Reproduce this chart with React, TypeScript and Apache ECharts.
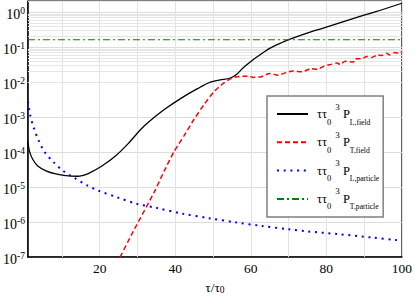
import React, { useEffect, useRef } from "react";
import * as echarts from "echarts";

// tau/tau0 and values
const lFieldX = [1, 1.44, 2.31, 3.61, 5.78, 8.39, 11, 14.06, 15.37, 17.1, 20.6, 24.1, 27.6, 30.6, 32.8, 37.1, 41.5, 45.9, 49.3, 51.9, 54.6, 56.3, 58.0, 60.6, 62.4, 65.0, 67.6, 70.2, 75.5, 79.8, 88.5, 92.9, 100];
const lFieldY = [1.98e-4, 1.04e-4, 6.17e-5, 4.03e-5, 2.93e-5, 2.38e-5, 2.13e-5, 2.05e-5, 2.13e-5, 2.48e-5, 4.03e-5, 7.6e-5, 1.78e-4, 4.16e-4, 7.05e-4, 1.65e-3, 3.46e-3, 6.53e-3, 1.0e-2, 1.16e-2, 1.32e-2, 1.69e-2, 2.59e-2, 4.41e-2, 6.05e-2, 9.27e-2, 0.127, 0.168, 0.268, 0.368, 0.741, 1.02, 1.81];

const tFieldX = [25.4, 28.9, 34.5, 37.1, 39.7, 42.4, 45.0, 47.6, 50.2, 52.8, 55.0, 57.2, 59.8, 60.6, 62.8, 65.0, 67.2, 69.4, 71.1, 73.7, 75.9, 77.6, 79.4, 81.1, 82.8, 83.7, 85.0, 87.2, 87.6, 89.4, 90.7, 92.0, 93.7, 94.6, 95.9, 96.8, 98.1, 99.4, 100];
const tFieldY = [1e-7, 5.47e-7, 7.41e-6, 2.93e-5, 1.04e-4, 3.03e-4, 8.75e-4, 2.27e-3, 5.3e-3, 9.38e-3, 1.32e-2, 1.47e-2, 1.47e-2, 1.37e-2, 1.44e-2, 1.77e-2, 1.59e-2, 1.89e-2, 2.1e-2, 1.98e-2, 2.44e-2, 2.33e-2, 2.89e-2, 3.21e-2, 3.56e-2, 3.21e-2, 3.97e-2, 3.8e-2, 4.69e-2, 4.69e-2, 5.47e-2, 5.13e-2, 6.05e-2, 5.82e-2, 6.75e-2, 6.05e-2, 7.05e-2, 6.75e-2, 7.52e-2];

const lPartX = [1.0, 1.6, 2.57, 3.8, 5.52, 7.79, 10.3, 13.4, 16.7, 19.7, 24.8, 29.7, 35.0, 41.9, 48.9, 55.9, 62.8, 70.2, 74.6, 83.3, 92.0, 98.5, 100];
const lPartY = [2.81e-3, 1.13e-3, 4.93e-4, 2.2e-4, 9.8e-5, 5.19e-5, 2.93e-5, 1.81e-5, 1.13e-5, 7.91e-6, 5.06e-6, 3.37e-6, 2.56e-6, 1.75e-6, 1.3e-6, 9.86e-7, 7.8e-7, 6.21e-7, 5.47e-7, 4.52e-7, 3.64e-7, 3.08e-7, 3.0e-7];

const tPartX = [1, 100];
const tPartY = [0.164, 0.164];

const seriesNames = ["L,field", "T,field", "L,particle", "T,particle"];
const xLabelTicks = [20, 40, 60, 80, 100];
const xMinorGrid = [10, 30, 50, 70, 90];
const yMin = 1e-7;
const yMax = 2.1;

const SERIF = "Liberation Serif";

function zip(xs: number[], ys: number[]) {
  return xs.map((x, i) => [x, ys[i]]);
}

export default function App() {
  const ref = useRef<HTMLDivElement>(null);
  useEffect(() => {
    document.body.style.margin = "0";
    const chart = echarts.init(ref.current!, null, { renderer: "svg" });

    const hMinor: any[] = [];
    for (let e = -7; e <= 0; e++) {
      for (let k = 2; k <= 9; k++) {
        const v = k * Math.pow(10, e);
        if (v < yMax) hMinor.push({ yAxis: v });
      }
    }
    const vMinor = xMinorGrid.map((x) => ({ xAxis: x }));

    const legendText = (name: string) =>
      `{sp| }{t|ττ}{sub|0}{g| }{sup|3}{t| P}{nm|${name}}`;

    const option: any = {
      animation: false,
      textStyle: { fontFamily: SERIF },
      grid: {
        left: 25,
        right: 11,
        top: 1,
        bottom: 34,
        show: true,
        borderColor: "#000",
        borderWidth: 1,
        backgroundColor: "transparent",
      },
      xAxis: {
        type: "value",
        min: 1,
        max: 100,
        splitNumber: 5,
        axisLine: { show: true, lineStyle: { color: "#000", width: 1.5 } },
        axisTick: { show: false },
        splitLine: { show: true, lineStyle: { color: "#e2e2e2", width: 1 } },
        axisLabel: {
          showMinLabel: false,
          color: "#000",
          fontFamily: SERIF,
          fontSize: 13.5,
          margin: 4,
          formatter: (v: number) => (xLabelTicks.includes(Math.round(v)) && Math.abs(v - Math.round(v)) < 1e-6 ? String(Math.round(v)) : ""),
        },
        name: "{a|τ/τ}{s|0}",
        nameLocation: "middle",
        nameGap: 17,
        nameTextStyle: {
          fontFamily: SERIF,
          rich: {
            a: { fontFamily: SERIF, fontSize: 13.5, color: "#000", lineHeight: 16, verticalAlign: "middle" },
            s: { fontFamily: SERIF, fontSize: 9.5, color: "#000", lineHeight: 10, verticalAlign: "bottom" },
          },
        },
      },
      yAxis: {
        type: "log",
        logBase: 10,
        min: yMin,
        max: yMax,
        splitNumber: 7,
        axisLine: { show: true, lineStyle: { color: "#000", width: 1.5 } },
        axisTick: { show: false },
        splitLine: { show: true, lineStyle: { color: "#dcdcdc", width: 1 } },
        axisLabel: {
          margin: 3,
          padding: [4, 0, 0, 0],
          fontFamily: SERIF,
          formatter: (v: number) => {
            const e = Math.round(Math.log10(v));
            if (Math.abs(v - Math.pow(10, e)) > 1e-6 * Math.pow(10, e)) return "";
            return `{b|10}{e|${e}}`;
          },
          rich: {
            b: { fontFamily: SERIF, fontSize: 14, color: "#000", lineHeight: 16, verticalAlign: "middle" },
            e: { fontFamily: SERIF, fontSize: 9.5, color: "#000", lineHeight: 8, verticalAlign: "top" },
          },
        },
      },
      legend: {
        data: seriesNames,
        orient: "vertical",
        left: 267,
        top: 96,
        itemWidth: 31,
        itemHeight: 14,
        itemGap: 4.3,
        padding: [6, 4, 6, 9],
        backgroundColor: "#fff",
        borderColor: "#808080",
        borderWidth: 1.5,
        borderRadius: 0,
        selectedMode: false,
        itemStyle: { opacity: 0 },
        formatter: legendText,
        textStyle: {
          fontFamily: SERIF,
          width: 77,
          overflow: "none",
          rich: {
            sp: { fontFamily: SERIF, fontSize: 4, width: 4, lineHeight: 24 },
            t: { fontFamily: SERIF, fontSize: 12.5, color: "#000", lineHeight: 24, verticalAlign: "middle" },
            sub: { fontFamily: SERIF, fontSize: 8.5, color: "#000", lineHeight: 14, verticalAlign: "bottom" },
            nm: { fontFamily: SERIF, fontSize: 7.6, color: "#000", lineHeight: 14, verticalAlign: "bottom" },
            sup: { fontFamily: SERIF, fontSize: 9, color: "#000", lineHeight: 6, verticalAlign: "top" },
            g: { fontFamily: SERIF, fontSize: 4, width: 4, lineHeight: 24 },
          },
        },
      },
      series: [
        {
          name: "grid",
          type: "line",
          data: [[1, 1e-7]],
          symbol: "none",
          silent: true,
          lineStyle: { width: 0 },
          markLine: {
            silent: true,
            z: 1,
            symbol: "none",
            label: { show: false },
            emphasis: { disabled: true },
            lineStyle: { color: "#e6e6e6", width: 1, type: "solid" },
            data: [...hMinor, ...vMinor.map((d) => ({ ...d, lineStyle: { color: "#e2e2e2", width: 1, type: "solid" } }))],
          },
        },
        {
          name: seriesNames[0],
          type: "line",
          data: zip(lFieldX, lFieldY),
          symbol: "none",
          smooth: 0.3,
          lineStyle: { color: "#000", width: 1.3, type: "solid" },
          itemStyle: { color: "#000", opacity: 0 },
        },
        {
          name: seriesNames[1],
          type: "line",
          data: zip(tFieldX, tFieldY),
          symbol: "none",
          smooth: 0.2,
          lineStyle: { color: "#ff0000", width: 1.5, type: [5, 3] },
          itemStyle: { color: "#ff0000", opacity: 0 },
        },
        {
          name: seriesNames[2],
          type: "line",
          data: zip(lPartX, lPartY),
          symbol: "none",
          smooth: 0.3,
          lineStyle: { color: "#0000ff", width: 2, type: [2, 4.7] },
          itemStyle: { color: "#0000ff", opacity: 0 },
        },
        {
          name: seriesNames[3],
          type: "line",
          data: zip(tPartX, tPartY),
          symbol: "none",
          lineStyle: { color: "#008000", width: 1.1, type: [7, 3, 2, 3] },
          itemStyle: { color: "#008000", opacity: 0 },
        },
      ],
    };

    chart.setOption(option);
    return () => chart.dispose();
  }, []);
  return <div ref={ref} style={{ width: 415, height: 300 }} />;
}
